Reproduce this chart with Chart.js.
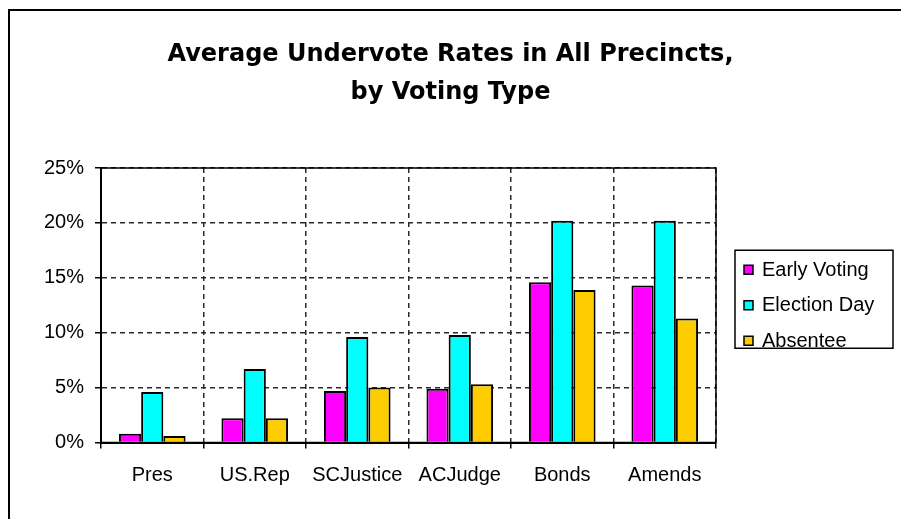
<!DOCTYPE html>
<html>
<head>
<meta charset="utf-8">
<title>Average Undervote Rates</title>
<script src="https://cdn.jsdelivr.net/npm/chart.js@4.4.1/dist/chart.umd.min.js"></script>
<style>
  html, body { margin: 0; padding: 0; background: #fff; }
  canvas { display: block; }
</style>
</head>
<body>
<canvas id="myChart" width="901" height="519"></canvas>
<script>
let races = ['Pres', 'US.Rep', 'SCJustice', 'ACJudge', 'Bonds', 'Amends'];

// undervote rate per race, in percent
let early_voting = [0.8, 2.2, 4.7, 4.9, 14.6, 14.3];
let election_day = [4.6, 6.7, 9.6, 9.8, 20.2, 20.2];
let absentee = [0.6, 2.2, 5.0, 5.3, 13.9, 11.3];

let series_names = ['Early Voting', 'Election Day', 'Absentee'];
let series_colors = ['#ff00ff', '#00ffff', '#ffcc00'];

let title_lines = ['Average Undervote Rates in All Precincts,', 'by Voting Type'];

const labelFont = '"Liberation Sans", Arial, sans-serif';

// outer chart border plus the solid frame round the plot area
const framePlugin = {
    id: 'frame',
    beforeDraw(chart) {
        const ctx = chart.ctx;
        ctx.save();
        ctx.fillStyle = '#fff';
        ctx.fillRect(0, 0, chart.width, chart.height);
        ctx.strokeStyle = '#000';
        ctx.lineWidth = 2;
        ctx.beginPath();
        ctx.moveTo(9, chart.height + 5);
        ctx.lineTo(9, 10);
        ctx.lineTo(chart.width + 5, 10);
        ctx.stroke();
        ctx.restore();
    },
    afterDraw(chart) {
        const a = chart.chartArea;
        const ctx = chart.ctx;
        ctx.save();
        ctx.strokeStyle = '#000';
        ctx.lineWidth = 1.5;
        ctx.strokeRect(a.left, a.top, a.right - a.left, a.bottom - a.top);
        ctx.restore();
    }
};

// boxed legend to the right of the plot
const boxLegend = {
    id: 'boxLegend',
    afterDraw(chart) {
        const a = chart.chartArea;
        const ctx = chart.ctx;
        const left = a.right + 19;
        const top = (a.top + a.bottom) / 2 - 55;
        const w = 158, h = 98;
        ctx.save();
        ctx.strokeStyle = '#000';
        ctx.lineWidth = 1.5;
        ctx.strokeRect(left, top, w, h);
        ctx.font = '20px ' + labelFont;
        ctx.textBaseline = 'middle';
        ctx.textAlign = 'left';
        chart.data.datasets.forEach((ds, i) => {
            const y = top + 20 + i * 35.5;
            ctx.fillStyle = ds.backgroundColor;
            ctx.fillRect(left + 9, y - 5, 9, 9);
            ctx.lineWidth = 1.5;
            ctx.strokeRect(left + 9, y - 5, 9, 9);
            ctx.fillStyle = '#000';
            ctx.fillText(ds.label, left + 27, y);
        });
        ctx.restore();
    }
};

const myChart = document.getElementById('myChart');
new Chart(myChart, {
    type: 'bar',
    data: {
        labels: races,
        datasets: [early_voting, election_day, absentee].map((vals, i) => ({
            label: series_names[i],
            data: vals,
            backgroundColor: series_colors[i],
            borderColor: '#000',
            borderWidth: 2,
            categoryPercentage: 0.65,
            barPercentage: 1.0
        }))
    },
    options: {
        responsive: false,
        devicePixelRatio: 1,
        animation: false,
        layout: { padding: 0 },
        plugins: {
            legend: { display: false },
            tooltip: { enabled: false },
            title: {
                display: true,
                text: title_lines,
                color: '#000',
                font: { family: '"DejaVu Sans", Verdana, sans-serif', size: 24, weight: 'bold', lineHeight: '38px' },
                padding: { top: 36, bottom: 56 }
            }
        },
        scales: {
            x: {
                afterFit: (s) => { s.height = 76.5; },
                grid: {
                    offset: true,
                    color: '#2a2a2a',
                    lineWidth: 1.5,
                    tickLength: 6,
                    tickColor: '#000',
                    tickWidth: 1.5
                },
                border: { display: true, color: '#000', width: 2, dash: [5, 4] },
                ticks: {
                    color: '#000',
                    padding: 15,
                    font: { family: labelFont, size: 20 }
                }
            },
            y: {
                min: 0,
                max: 25,
                afterFit: (s) => { s.width = 101; },
                grid: {
                    color: '#2a2a2a',
                    lineWidth: 1.5,
                    tickLength: 6,
                    tickColor: '#000',
                    tickWidth: 1.5
                },
                border: { display: true, color: '#000', width: 2, dash: [5, 4] },
                ticks: {
                    stepSize: 5,
                    color: '#000',
                    padding: 11,
                    font: { family: labelFont, size: 20 },
                    callback: (v) => v + '%'
                }
            },
            // empty right-hand axis that keeps room for the legend box
            side: {
                type: 'linear',
                position: 'right',
                afterFit: (s) => { s.width = 185; },
                grid: { display: false, drawOnChartArea: false },
                border: { display: false },
                ticks: { display: false }
            }
        }
    },
    plugins: [framePlugin, boxLegend]
});
</script>
</body>
</html>
